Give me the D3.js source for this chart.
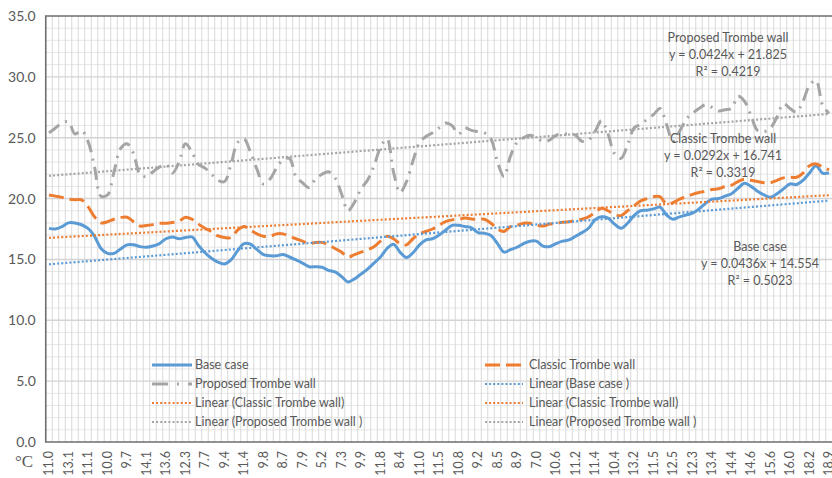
<!DOCTYPE html>
<html><head><meta charset="utf-8">
<script src="https://cdn.jsdelivr.net/npm/d3@7"></script>
<style>
html,body{margin:0;padding:0;background:#fff;}
svg{display:block;font-family:Lato,"Open Sans",sans-serif;}
</style></head>
<body><svg id="c" width="832" height="478"></svg>
<script>
// ---------- data ----------
const tickLabels = ["11.0","13.1","11.1","10.0","9.7","14.1","13.6","12.3","7.7","9.4","11.4","9.8","8.7","7.9","5.2","7.3","9.9","11.8","8.4","11.0","11.5","10.8","9.2","8.5","8.9","7.0","10.6","11.2","11.4","10.4","13.2","11.5","12.5","12.3","13.4","14.4","14.6","15.6","16.0","18.2","18.9"];
const categories = d3.range(121); // 121 points, one label shown every 3rd
const baseCase = [17.55,17.5,17.7,18.0,18.0,17.85,17.55,16.9,15.9,15.5,15.5,15.85,16.2,16.2,16.05,16.0,16.1,16.3,16.7,16.85,16.7,16.8,16.85,16.15,15.55,15.1,14.77,14.63,14.96,15.7,16.3,16.25,15.8,15.4,15.3,15.3,15.4,15.2,14.96,14.7,14.4,14.4,14.36,14.1,13.97,13.6,13.15,13.4,13.8,14.2,14.7,15.2,15.9,16.25,15.6,15.15,15.55,16.2,16.6,16.7,17.0,17.4,17.8,17.8,17.7,17.6,17.2,17.15,16.96,16.3,15.6,15.8,16.0,16.3,16.5,16.5,16.1,16.05,16.3,16.5,16.6,16.9,17.2,17.56,18.25,18.5,18.4,17.9,17.56,17.97,18.6,19.0,19.04,19.15,19.3,18.65,18.3,18.5,18.65,18.8,19.15,19.6,19.95,20.0,20.2,20.4,20.85,21.26,21.0,20.6,20.3,20.1,20.4,20.8,21.2,21.15,21.5,22.1,22.7,22.1,22.1];
const classicWall = [20.3,20.2,20.1,19.95,19.9,19.9,19.34,18.5,18.0,18.1,18.3,18.44,18.47,18.1,17.75,17.78,17.86,17.97,17.97,18.03,18.14,18.47,18.3,17.9,17.56,17.29,16.93,16.8,16.8,17.4,17.7,17.4,17.1,16.9,16.9,17.1,17.1,16.9,16.7,16.5,16.3,16.4,16.4,16.2,15.9,15.6,15.2,15.4,15.6,15.8,16.05,16.5,16.9,16.7,16.3,16.2,16.7,17.1,17.3,17.5,17.8,18.1,18.25,18.3,18.4,18.33,18.3,18.3,17.97,17.5,17.3,17.7,17.8,17.97,17.97,17.8,17.75,17.9,17.97,18.05,18.1,18.2,18.3,18.5,18.85,19.2,19.0,18.7,18.6,19.0,19.4,19.8,20.0,20.15,20.15,19.56,19.67,19.95,20.15,20.35,20.5,20.6,20.75,20.8,21.0,21.1,21.4,21.6,21.5,21.4,21.3,21.3,21.5,21.7,21.75,21.75,22.1,22.7,22.85,22.6,22.35];
const proposedWall = [25.4,25.8,26.2,26.3,25.3,25.6,24.7,22.6,20.2,20.3,22.2,24.1,24.5,23.7,22.0,21.8,22.2,22.6,22.8,22.1,23.0,24.5,23.8,22.8,22.5,22.0,21.5,21.4,22.8,24.6,24.9,23.8,22.4,21.2,21.6,22.5,23.2,23.3,21.8,21.3,20.9,21.6,22.0,22.2,21.7,20.4,19.0,19.7,20.8,21.5,22.7,24.2,24.9,22.2,20.5,21.4,23.1,24.6,25.1,25.4,25.8,26.2,26.0,25.3,25.8,25.6,25.5,25.4,24.9,23.0,21.8,23.5,24.6,25.0,25.2,25.0,24.7,24.8,25.2,25.3,25.3,25.2,24.7,24.8,25.5,26.4,25.3,23.7,23.3,24.4,25.8,26.1,26.5,26.9,27.4,26.1,24.7,25.5,26.5,27.0,27.4,27.7,27.5,27.2,27.3,27.4,28.4,28.0,26.8,25.6,25.5,25.8,26.7,27.8,27.4,27.1,28.0,29.3,29.7,27.7,27.0];
const seriesNames = ["Base case","Classic Trombe wall","Proposed Trombe wall"];
const trendSlopes = [0.0436,0.0292,0.0424];
const trendIntercepts = [14.554,16.741,21.825];
const trendR2 = ["0.5023","0.3319","0.4219"];
const yTicks = [0,5,10,15,20,25,30,35];
const legendLabels = ["Base case","Classic Trombe wall","Proposed Trombe wall","Linear (Base case )","Linear (Classic Trombe wall)","Linear (Classic Trombe wall)","Linear (Proposed Trombe wall )","Linear (Proposed Trombe wall )"];

// ---------- layout ----------
const svg = d3.select("#c");
const pLeft = 45.75, pTop = 16, pBottom = 442, pRight = 832.25;
const colors = ["#5B9BD5","#ED7D31","#A5A5A5"];
const dashes = [null,"15,6","13,6.5,2,6.5"];
const textColor = "#595959";

const x = d3.scaleBand().domain(categories).range([pLeft, pRight]).padding(0);
const cx = i => x(i) + x.bandwidth()/2;
const y = d3.scaleLinear().domain([0,35]).range([pBottom, pTop]);

svg.append("defs").append("clipPath").attr("id","clip").append("rect")
  .attr("x",pLeft).attr("y",pTop-2).attr("width",pRight-pLeft).attr("height",pBottom-pTop+4);

const plot = svg.append("g");
// minor horizontal gridlines
plot.append("g").selectAll("line").data(d3.range(1,35).filter(v=>v%5!==0)).join("line")
  .attr("x1",pLeft).attr("x2",pRight).attr("y1",d=>y(d)).attr("y2",d=>y(d))
  .attr("stroke","#e6e6e6").attr("stroke-width",1);
// vertical gridlines
plot.append("g").selectAll("line").data(categories.slice(1)).join("line")
  .attr("x1",d=>x(d)).attr("x2",d=>x(d)).attr("y1",pTop).attr("y2",pBottom)
  .attr("stroke","#d9d9d9").attr("stroke-width",1);
// major horizontal gridlines
plot.append("g").selectAll("line").data(yTicks.slice(1,-1)).join("line")
  .attr("x1",pLeft).attr("x2",pRight).attr("y1",d=>y(d)).attr("y2",d=>y(d))
  .attr("stroke","#d4d4d4").attr("stroke-width",1.4);

// plot border
plot.append("path").attr("d",`M${pRight},${pTop}H${pLeft}V${pBottom}H${pRight}`)
  .attr("fill","none").attr("stroke","#6e6e6e").attr("stroke-width",1.6);

// axes labels
const yAxis = svg.append("g").attr("transform",`translate(${pLeft},0)`)
  .call(d3.axisLeft(y).tickValues(yTicks).tickSize(0).tickPadding(10).tickFormat(d3.format(".1f")));
yAxis.select(".domain").remove();
yAxis.selectAll("text").attr("fill",textColor).attr("font-size","14px").attr("font-family","Lato");

const xAxis = svg.append("g").attr("transform",`translate(0,${pBottom})`)
  .call(d3.axisBottom(x).tickValues(categories.filter(i=>i%3===0)).tickSize(0).tickFormat(i=>tickLabels[i/3]));
xAxis.select(".domain").remove();
xAxis.selectAll("text").attr("fill",textColor).attr("font-size","12.5px").attr("font-family","Lato")
  .attr("y",0).attr("x",-9).attr("dy","0.35em").attr("transform","rotate(-90)").attr("text-anchor","end");

svg.append("text").attr("x",15).attr("y",467).text("°C")
  .attr("font-family","Liberation Serif").attr("font-size","17px").attr("fill",textColor);

// series
const data = [baseCase, classicWall, proposedWall];
const line = d3.line().x((d,i)=>cx(i)).y(d=>y(d)).curve(d3.curveCatmullRom.alpha(0.5));
const g = svg.append("g").attr("clip-path","url(#clip)");
data.forEach((s,k)=>{
  g.append("path").attr("d",line(s)).attr("fill","none")
    .attr("stroke",colors[k]).attr("stroke-width",3)
    .attr("stroke-dasharray",dashes[k]).attr("stroke-linejoin","round");
});
// trendlines
trendSlopes.forEach((a,k)=>{
  const b = trendIntercepts[k];
  const pts = [0, categories.length-1];
  g.append("path").attr("d", d3.line().x(i=>cx(i)).y(i=>y(a*(i+1)+b))(pts))
    .attr("fill","none").attr("stroke",colors[k]).attr("stroke-width",2.2)
    .attr("stroke-dasharray","2,2.1");
});

// trend equation labels
const ann = [
  {k:2, cx:728, cy:38},
  {k:1, cx:723, cy:139},
  {k:0, cx:760, cy:246.5}
];
ann.forEach(a=>{
  const lines = [seriesNames[a.k], `y = ${trendSlopes[a.k]}x + ${trendIntercepts[a.k]}`, `R² = ${trendR2[a.k]}`];
  svg.append("g").selectAll("text").data(lines).join("text")
    .attr("x",a.cx).attr("y",(d,i)=>a.cy+i*17).attr("dy","0.35em")
    .attr("text-anchor","middle").attr("fill",textColor)
    .attr("font-size","12.5px").attr("font-family","Lato").text(d=>d);
});

// legend
const legendStyles = [
  {c:colors[0],d:null,w:3},{c:colors[1],d:"15,6",w:3},{c:colors[2],d:"16,9,2,9",w:3},
  {c:colors[0],d:"2,2.1",w:2},{c:colors[1],d:"2,2.1",w:2},{c:colors[1],d:"2,2.1",w:2},
  {c:colors[2],d:"2,2.1",w:2},{c:colors[2],d:"2,2.1",w:2}
];
const colX = [{x1:152,x2:192,tx:195},{x1:485,x2:523,tx:529}];
legendLabels.forEach((lab,i)=>{
  const col = colX[i%2], row = Math.floor(i/2);
  const ly = 365 + row*19;
  const st = legendStyles[i];
  svg.append("line").attr("x1",col.x1).attr("x2",col.x2).attr("y1",ly).attr("y2",ly)
    .attr("stroke",st.c).attr("stroke-width",st.w).attr("stroke-dasharray",st.d);
  svg.append("text").attr("x",col.tx).attr("y",ly).attr("dy","0.35em").text(lab)
    .attr("fill",textColor).attr("font-size","12.5px").attr("font-family","Lato");
});
</script></body></html>
